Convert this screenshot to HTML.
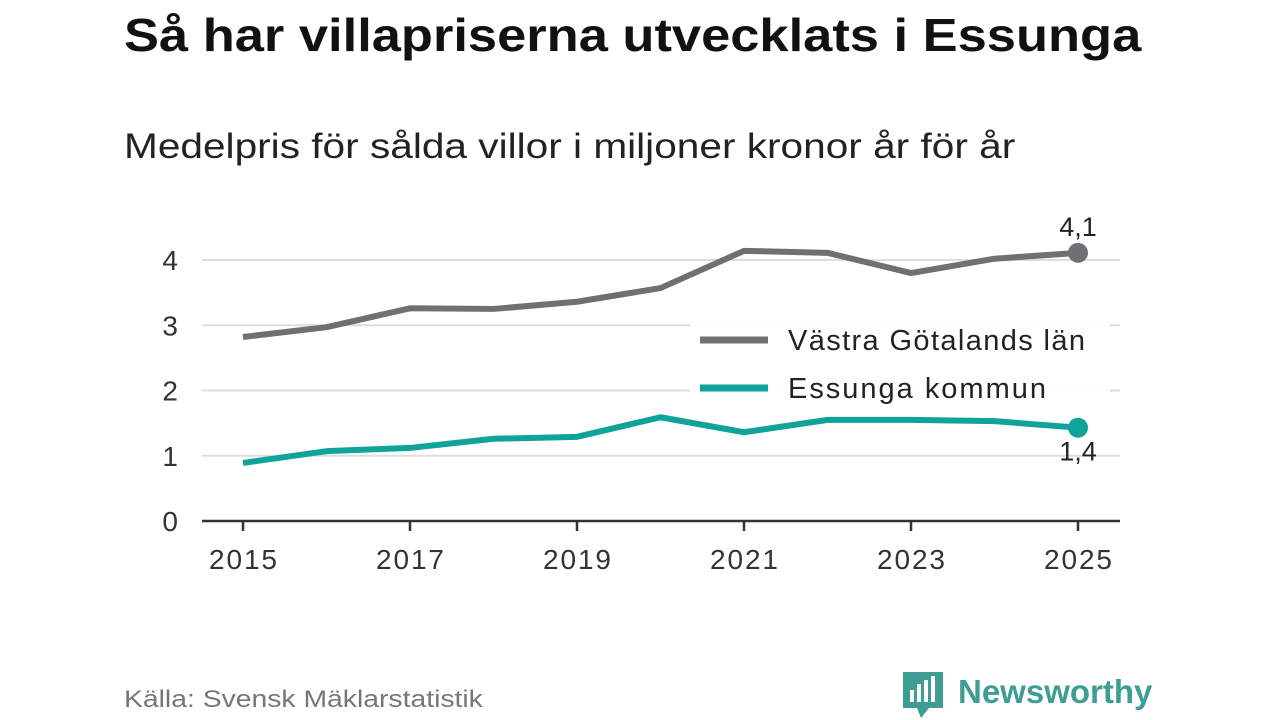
<!DOCTYPE html>
<html><head><meta charset="utf-8">
<style>
html,body{margin:0;padding:0;background:#fff;width:1280px;height:720px;overflow:hidden;font-family:"Liberation Sans","DejaVu Sans",sans-serif;}
#title{position:absolute;left:124px;top:8px;font-size:46px;font-weight:bold;color:#111;transform:scaleX(1.14);transform-origin:left top;white-space:nowrap}
#subtitle{position:absolute;left:124px;top:127px;font-size:35px;color:#222;transform:scaleX(1.16);transform-origin:left top;white-space:nowrap}
#source{position:absolute;left:124px;top:686px;font-size:24px;color:#777;transform:scaleX(1.18);transform-origin:left top;white-space:nowrap}
svg{position:absolute;left:0;top:0}
</style></head><body>
<div id="title">Så har villapriserna utvecklats i Essunga</div>
<div id="subtitle">Medelpris för sålda villor i miljoner kronor år för år</div>
<div id="source">Källa: Svensk Mäklarstatistik</div>
<svg id="chart" width="1280" height="720"></svg>
<script>
const years=[2015,2016,2017,2018,2019,2020,2021,2022,2023,2024,2025];
const vastra=[2.82,2.97,3.26,3.25,3.36,3.57,4.14,4.11,3.80,4.02,4.11];
const essunga=[0.89,1.07,1.12,1.26,1.29,1.59,1.36,1.55,1.55,1.53,1.43];
const yTicks=[0,1,2,3,4];
const xTicks=[2015,2017,2019,2021,2023,2025];
const NS='http://www.w3.org/2000/svg';
const svg=document.getElementById('chart');
const x=v=>243+(v-2015)*83.5;
const y=v=>521-v*65.25;
function mk(t,a,p){const e=document.createElementNS(NS,t);for(const k in a)e.setAttribute(k,a[k]);(p||svg).appendChild(e);return e;}
yTicks.forEach(t=>{
 if(t>0){const g=mk('line',{x1:202,x2:1120,y1:y(t),y2:y(t),stroke:'#ddd','stroke-width':2});
 
 }
 const l=mk('text',{x:178,y:y(t)+10,'text-anchor':'end','font-size':28,fill:'#333'});l.textContent=t;
 
 
});
const ax=mk('line',{x1:202,x2:1120,y1:521,y2:521,stroke:'#333','stroke-width':2.5});


xTicks.forEach(t=>{
 mk('line',{x1:x(t),x2:x(t),y1:521,y2:531,stroke:'#333','stroke-width':2.5});
 const l=mk('text',{x:x(t),y:569,'text-anchor':'middle','font-size':28,fill:'#333','textLength':68});l.textContent=t;
 
 
});
const lg=mk('rect',{x:690,y:318,width:420,height:100,fill:'#fff',opacity:0.9});


[['Västra Götalands län','#707074',340,297],['Essunga kommun','#0fa39a',388,258]].forEach(([n,c,yy,w])=>{
 mk('line',{x1:700,x2:768,y1:yy,y2:yy,stroke:c,'stroke-width':7});
 const t=mk('text',{x:788,y:yy+10,'font-size':29,fill:'#222','textLength':w});t.textContent=n;
 
 
});
function series(vals,c,name,dy){
 const p=mk('polyline',{points:vals.map((v,i)=>x(years[i])+','+y(v)).join(' '),fill:'none',stroke:c,'stroke-width':6,'stroke-linejoin':'round'});
 
 
 const last=vals.length-1;
 const d=mk('circle',{cx:x(years[last]),cy:y(vals[last]),r:10,fill:c});
 
 
 const t=mk('text',{x:x(years[last]),y:y(vals[last])+dy,'text-anchor':'middle','font-size':27,fill:'#222'});
 t.textContent=vals[last].toFixed(1).replace('.',',');
 
 
}
series(vastra,'#707074','vastra',-17);
series(essunga,'#0fa39a','essunga',33);
const lgG=mk('g',{});


mk('path',{d:'M903 672 h40 v36 h-14 l-8 10 l-4 -10 h-14 z',fill:'#3e9e94'},lgG);
[[910,690,4,12],[917,684,4,18],[924,680,4,22],[931,676,4,26]].forEach(r=>mk('rect',{x:r[0],y:r[1],width:r[2],height:r[3],fill:'#fff'},lgG));
const lt=mk('text',{x:958,y:703,'font-size':33,'font-weight':'bold',fill:'#3e9e94'},lgG);lt.textContent='Newsworthy';
</script>
</body></html>
